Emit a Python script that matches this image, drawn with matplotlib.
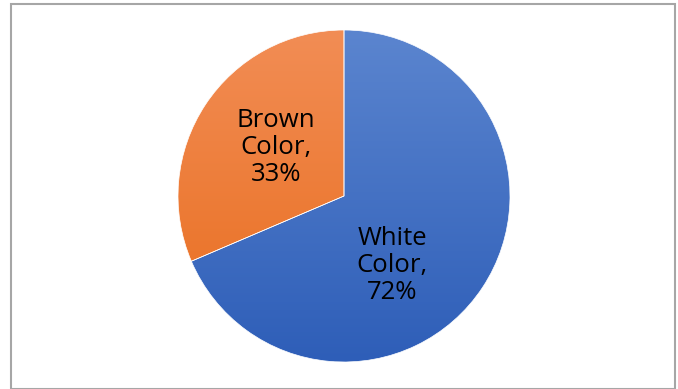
import numpy as np
import matplotlib
matplotlib.use("Agg")
import matplotlib.pyplot as plt
from matplotlib.patches import Rectangle
from matplotlib.colors import LinearSegmentedColormap

labels = ["White Color", "Brown Color"]
values = [72, 33]
top_colors = ["#5B85CF", "#F28D55"]
bottom_colors = ["#2E5EB8", "#E86C1C"]
# label centres, in pie units
label_pos = [(0.29, -0.42), (-0.41, 0.29)]

plt.rcParams["font.family"] = ["Open Sans", "DejaVu Sans"]

W, H = 678, 389
fig = plt.figure(figsize=(W / 100, H / 100), dpi=100)

cx, cy, r = 344, 196, 166
ax = fig.add_axes([(cx - r) / W, (H - cy - r) / H, 2 * r / W, 2 * r / H])

wedges, _ = ax.pie(values, startangle=90, counterclock=False, radius=1,
                   wedgeprops=dict(linewidth=0.5, edgecolor="white"))
ax.set_aspect("equal")
ax.axis("off")

# vertical gradient fill, clipped to each wedge
grad = np.linspace(0, 1, 256).reshape(-1, 1)
for w, c_top, c_bot in zip(wedges, top_colors, bottom_colors):
    w.set_facecolor("none")
    cmap = LinearSegmentedColormap.from_list("g", [c_bot, c_top])
    im = ax.imshow(grad, extent=(-1, 1, -1, 1), origin="lower", cmap=cmap,
                   aspect="auto", zorder=0.5)
    im.set_clip_path(w)
    w.set_zorder(1)
ax.set_xlim(-1, 1)
ax.set_ylim(-1, 1)

for name, v, (x, y) in zip(labels, values, label_pos):
    first, second = name.split(" ")
    ax.text(x, y, f"{first}\n{second},\n{v}%", ha="center", va="center",
            multialignment="center", fontsize=18.5, linespacing=1.1,
            color="black", zorder=3)

fig.patches.append(Rectangle((10.5 / W, 0.5 / H), 664 / W, (H - 4.5) / H,
                             transform=fig.transFigure, fill=False,
                             edgecolor="#A6A6A6", linewidth=1.5))

fig.savefig("out.png", dpi=100)
